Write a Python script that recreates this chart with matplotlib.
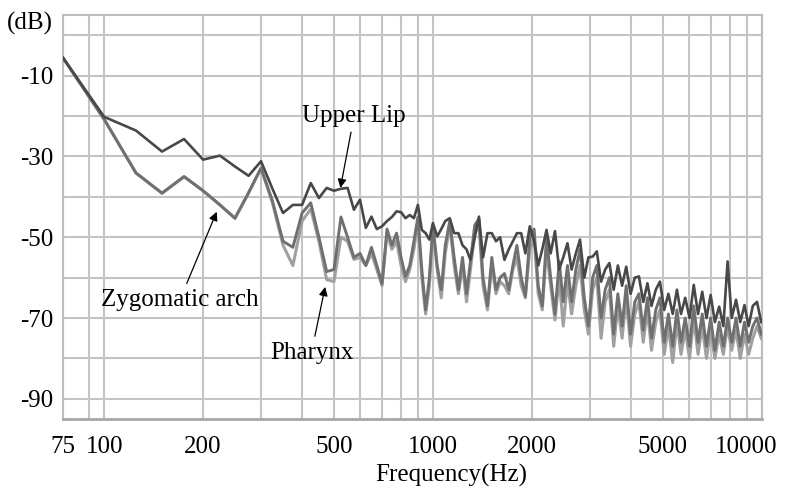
import matplotlib
matplotlib.use("Agg")
import matplotlib.pyplot as plt
import matplotlib.transforms as mtransforms
from matplotlib.ticker import FixedLocator, FixedFormatter, NullFormatter

plt.rcParams["font.family"] = ["Liberation Serif", "DejaVu Serif"]
plt.rcParams["axes.unicode_minus"] = False

# data
freq = [75, 100, 125, 150, 175, 200, 225, 250, 275, 300, 325, 350, 375, 400, 425,
        450, 475, 500, 525, 550, 575, 600, 625, 650, 675, 700, 725, 750, 775, 800,
        825, 850, 875, 900, 925, 950, 975,
        1000, 1030, 1060, 1090, 1125, 1160, 1195, 1230, 1265, 1300, 1340, 1380, 1420,
        1465, 1510, 1555, 1600, 1650, 1700, 1750, 1800, 1855, 1910, 1970, 2030, 2090,
        2150, 2215, 2280, 2350, 2420, 2490, 2565, 2640, 2720, 2800, 2885, 2970, 3060,
        3150, 3245, 3340, 3440, 3545, 3650, 3760, 3870, 3990, 4110, 4230, 4360, 4490,
        4620, 4760, 4900, 5050, 5200, 5360, 5520, 5680, 5850, 6030, 6210, 6400, 6590,
        6790, 6990, 7200, 7420, 7640, 7870, 8100, 8350, 8600, 8860, 9120, 9390, 9670,
        9960]

upper_lip = [-5.6, -20.2, -23.6, -28.8, -25.7, -30.8, -29.8, -32.5, -34.8, -31.2, -38, -44,
             -42, -42, -36.6, -40.3, -37.8, -38.5, -38.0, -37.8, -43.2, -40.7, -47.7, -44.9,
             -48, -47.3, -46, -45, -43.6, -43.8, -45.3, -44.5, -45.3, -42, -48.2, -49, -50.6,
             -46.5, -49.8, -48, -46, -45.3, -49, -49, -52, -53, -55.6, -50, -44.9, -55,
             -49, -49, -51, -50, -55.6, -53, -51, -49, -49, -54, -47.3, -51, -57,
             -53, -48.2, -54, -48.5, -58, -55, -51.5, -58, -54, -50.6, -60, -55, -54.8,
             -53.5, -61, -58, -56.4, -63, -57, -62, -57.3, -64, -60, -59.7, -66, -61.4,
             -67, -63, -61, -68, -64, -69, -63, -69, -65, -70, -61.8, -69, -63.5,
             -70, -64.3, -71, -67.2, -72, -56, -70, -65.5, -71, -66.8, -72, -67, -66,
             -71]

zygomatic = [-5.6, -20.8, -34.1, -39.1, -35, -38.5, -42, -45.3, -39, -32.9, -41, -51,
             -52.5, -44, -41.5, -50, -58.5, -58, -45, -50, -55, -54, -57, -52.5,
             -57, -61.5, -48, -52, -49, -55, -59.7, -57, -51, -45, -58, -68, -60,
             -47, -57, -63, -52, -46, -55, -63, -55, -64, -56, -47, -45.5, -60,
             -67, -55, -63, -60, -59, -63, -57, -52, -60, -64.6, -50, -48, -62,
             -67, -50, -60, -69, -56, -66, -57, -66, -58, -53, -65, -72, -60,
             -57, -70, -63, -60, -74, -64, -72, -62, -74, -66, -64, -73, -65,
             -75, -68, -65, -76, -69, -77, -68, -76, -70, -77, -67, -76, -69,
             -77, -70, -78, -71, -77, -70, -76, -70, -77, -71, -76, -72, -70,
             -74]

pharynx = [-5.6, -20.8, -34.1, -39.1, -35, -38.5, -42, -45.3, -39, -32.9, -41.5, -52,
           -57, -46, -43, -51, -60.5, -61, -50, -51, -55.5, -55, -57, -54,
           -58, -62, -49, -53, -51, -57, -61, -58, -53, -46, -60, -69, -62,
           -48, -58, -65, -54, -47, -57, -64, -57, -66, -58, -49, -47, -62,
           -68, -57, -64, -61, -62, -64, -58, -55, -62, -65, -53, -50, -64,
           -68, -53, -62, -70.5, -60, -72, -61, -69, -62, -57, -68, -74, -63,
           -60, -75, -66, -63, -77, -67, -75, -65, -77, -69, -66, -76, -68,
           -78, -71, -68, -79, -72, -81, -71, -79, -73, -80, -70, -79, -72,
           -80, -73, -80, -74, -79, -72, -78, -73, -80, -74, -79, -75, -72,
           -75]

x_ticks = [75, 100, 200, 500, 1000, 2000, 5000, 10000]
x_labels = ["75", "100", "200", "500", "1000", "2000", "5000", "10000"]
y_ticks = [-10, -30, -50, -70, -90]
y_labels = ["-10", "-30", "-50", "-70", "-90"]

fig = plt.figure(figsize=(7.86, 4.94), dpi=100)
ax = fig.add_axes([0.0802, 0.1518, 0.889, 0.8178])

ax.plot(freq, pharynx, color="#a0a0a0", lw=2.2, zorder=3)
ax.plot(freq, zygomatic, color="#707070", lw=2.1, zorder=4)
ax.plot(freq, upper_lip, color="#484848", lw=1.9, zorder=5)

ax.set_xscale("log")
ax.set_xlim(75, 10000)
ax.set_ylim(-95, 5)

ax.xaxis.set_major_locator(FixedLocator(x_ticks))
ax.xaxis.set_major_formatter(FixedFormatter(x_labels))
ax.xaxis.set_minor_locator(FixedLocator([90, 300, 400, 600, 700, 800, 900, 3000,
                                         4000, 6000, 7000, 8000, 9000]))
ax.xaxis.set_minor_formatter(NullFormatter())
ax.yaxis.set_major_locator(FixedLocator(y_ticks))
ax.yaxis.set_major_formatter(FixedFormatter(y_labels))
ax.yaxis.set_minor_locator(FixedLocator([0, -20, -40, -60, -80]))

ax.grid(True, which="both", color="#c4c4c4", lw=1.5, zorder=0)
ax.tick_params(which="both", length=0, labelsize=18)
ax.tick_params(axis="x", pad=12)
ax.tick_params(axis="y", pad=7)
for s in ax.spines.values():
    s.set_color("#bdbdbd")
    s.set_linewidth(1.5)
ax.spines["bottom"].set_color("#a8a8a8")
ax.spines["bottom"].set_linewidth(2)

# last label sits a bit left of its gridline, as in the original
last = ax.get_xticklabels()[-1]
last.set_transform(last.get_transform() +
                   mtransforms.ScaledTranslation(-16 / 100, 0, fig.dpi_scale_trans))

fig.text(0.009, 1 - 23 / 494, "(dB)", fontsize=18, va="center", ha="left")
fig.text(451 / 786, 1 - 475 / 494, "Frequency(Hz)", fontsize=18, va="center", ha="center")

arrow = dict(arrowstyle="-|>", color="black", lw=0.9, mutation_scale=13, shrinkA=2, shrinkB=0)
ax.annotate("Upper Lip", xy=(523, -37.8), xytext=(576, -19.9), fontsize=18,
            ha="center", va="center", arrowprops=arrow)
ax.annotate("Zygomatic arch", xy=(220, -43.7), xytext=(170, -65.5), fontsize=18,
            ha="center", va="center", arrowprops=arrow)
ax.annotate("Pharynx", xy=(470, -62.3), xytext=(427, -78.6), fontsize=18,
            ha="center", va="center", arrowprops=arrow)

fig.savefig("out.png", dpi=100)
